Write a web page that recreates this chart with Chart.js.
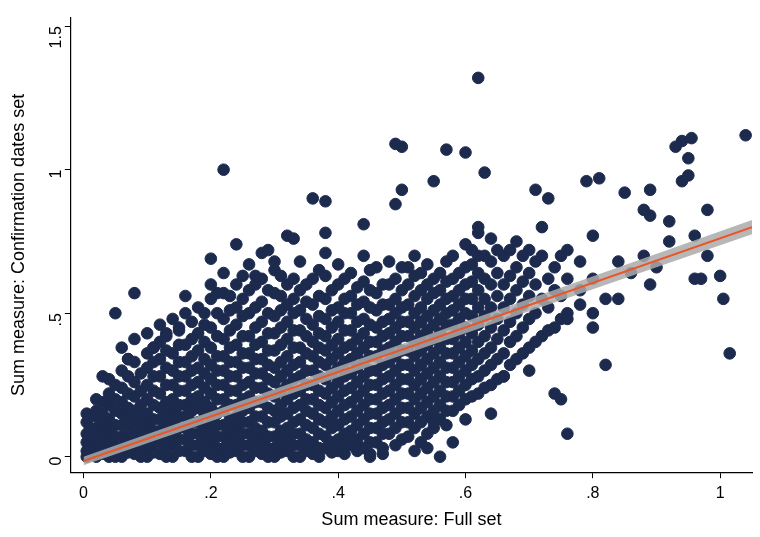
<!DOCTYPE html>
<html><head><meta charset="utf-8">
<script src="https://cdn.jsdelivr.net/npm/chart.js@4"></script>
<style>html,body{margin:0;padding:0;background:#fff}</style>
</head><body><canvas id="c" width="760" height="537"></canvas>
<script>
const colX=[0.005,0.02,0.04,0.06,0.08,0.1,0.12,0.14,0.16,0.18,0.2,0.22,0.24,0.26,0.28,0.3,0.32,0.34,0.36,0.38,0.4,0.42,0.44,0.46,0.48,0.5,0.52,0.54,0.56,0.58,0.6,0.62,0.64,0.66,0.68,0.7,0.72,0.74,0.76,0.78,0.8,0.84,0.88,0.9,0.92];
const colY=[
[0,0.02,0.05,0.08,0.12,0.15],
[0,0.03,0.06,0.1,0.14,0.16,0.2],
[0,0.02,0.05,0.09,0.13,0.18,0.22,0.27],
[0,0.03,0.07,0.11,0.15,0.19,0.24,0.3,0.38],
[0.01,0.04,0.08,0.12,0.16,0.21,0.26,0.33,0.41],
[0,0.03,0.07,0.11,0.15,0.2,0.25,0.31,0.36],
[0.01,0.05,0.09,0.13,0.17,0.22,0.28,0.34,0.4,0.46],
[0,0.04,0.08,0.12,0.16,0.2,0.25,0.3,0.36,0.48],
[0.02,0.06,0.1,0.14,0.18,0.23,0.28,0.33,0.39,0.5,0.56],
[0,0.04,0.08,0.12,0.17,0.21,0.26,0.31,0.37,0.43,0.52],
[0.01,0.05,0.09,0.13,0.17,0.22,0.27,0.32,0.38,0.45,0.55,0.6],
[0,0.03,0.07,0.11,0.16,0.2,0.25,0.3,0.35,0.41,0.48,0.57,0.64],
[0.02,0.06,0.1,0.14,0.18,0.23,0.28,0.33,0.39,0.46,0.52,0.6],
[0,0.04,0.08,0.12,0.17,0.21,0.26,0.31,0.36,0.42,0.5,0.58,0.67],
[0.01,0.05,0.09,0.14,0.19,0.24,0.29,0.34,0.4,0.47,0.54,0.62],
[0,0.03,0.07,0.12,0.16,0.21,0.26,0.31,0.37,0.43,0.49,0.57,0.65],
[0.02,0.06,0.1,0.15,0.2,0.25,0.3,0.35,0.41,0.47,0.53,0.6],
[0,0.04,0.08,0.13,0.18,0.23,0.28,0.33,0.38,0.44,0.51,0.58,0.68],
[0.01,0.05,0.1,0.15,0.2,0.25,0.3,0.35,0.4,0.46,0.53,0.62],
[0.03,0.07,0.12,0.17,0.22,0.27,0.32,0.37,0.42,0.48,0.55,0.63,0.71],
[0.02,0.06,0.11,0.16,0.21,0.26,0.31,0.36,0.41,0.47,0.52,0.6,0.67],
[0.04,0.09,0.14,0.19,0.24,0.29,0.34,0.39,0.44,0.5,0.56,0.64],
[0.03,0.08,0.13,0.18,0.23,0.28,0.33,0.38,0.43,0.48,0.54,0.61,0.7],
[0.05,0.1,0.15,0.2,0.25,0.3,0.35,0.4,0.45,0.51,0.57,0.66],
[0.08,0.13,0.18,0.23,0.28,0.33,0.38,0.43,0.48,0.53,0.6,0.68],
[0.06,0.12,0.17,0.22,0.27,0.32,0.37,0.42,0.47,0.52,0.58,0.66],
[0.1,0.15,0.2,0.25,0.3,0.35,0.4,0.45,0.5,0.56,0.63,0.7],
[0.08,0.14,0.19,0.24,0.29,0.34,0.39,0.44,0.49,0.55,0.6,0.67],
[0.13,0.18,0.23,0.28,0.33,0.38,0.43,0.48,0.53,0.58,0.64],
[0.16,0.21,0.26,0.31,0.36,0.41,0.46,0.51,0.56,0.62,0.7],
[0.2,0.25,0.3,0.35,0.4,0.45,0.5,0.55,0.6,0.66,0.74],
[0.22,0.28,0.34,0.4,0.46,0.52,0.58,0.64,0.7,0.78],
[0.25,0.32,0.38,0.45,0.52,0.6,0.68,0.76],
[0.28,0.36,0.44,0.52,0.6,0.7],
[0.34,0.42,0.5,0.58,0.66,0.75],
[0.38,0.48,0.56,0.64,0.72],
[0.42,0.55,0.7,0.8],
[0.45,0.58,0.66],
[0.5,0.62,0.72],
[0.58,0.68],
[0.45,0.62,0.77],
[0.55,0.68],
[0.7],[0.66],[0.75]
];
const col2X=[0.01,0.03,0.05,0.07,0.09,0.11,0.13,0.15,0.17,0.19,0.21,0.23,0.25,0.27,0.29,0.31,0.33,0.35,0.37,0.39,0.41,0.43,0.45,0.47,0.49,0.51,0.53,0.55,0.57,0.59,0.61,0.63,0.65,0.67,0.69,0.71,0.73,0.75];
const col2Y=[
[0.01,0.04,0.07,0.1],
[0.01,0.04,0.08,0.11,0.15,0.19],
[0,0.035,0.07,0.11,0.16,0.2,0.25],
[0.015,0.05,0.09,0.13,0.17,0.22,0.28,0.34],
[0,0.025,0.06,0.1,0.14,0.18,0.23,0.29],
[0.015,0.05,0.09,0.13,0.18,0.23,0.28,0.33,0.38],
[0,0.03,0.07,0.11,0.15,0.19,0.25,0.31,0.37,0.43],
[0.02,0.06,0.1,0.14,0.18,0.23,0.28,0.33,0.39,0.45],
[0,0.04,0.08,0.12,0.16,0.2,0.25,0.3,0.35,0.41,0.47],
[0.02,0.06,0.1,0.15,0.19,0.24,0.29,0.34,0.4,0.46,0.5],
[0,0.03,0.07,0.11,0.15,0.2,0.25,0.3,0.35,0.42,0.5,0.57],
[0.015,0.05,0.09,0.13,0.18,0.23,0.28,0.33,0.38,0.44,0.51,0.56],
[0,0.04,0.08,0.12,0.16,0.2,0.25,0.31,0.36,0.42,0.49,0.55,0.63],
[0.02,0.06,0.1,0.14,0.19,0.24,0.29,0.34,0.39,0.45,0.52,0.6],
[0,0.03,0.07,0.12,0.17,0.22,0.27,0.32,0.37,0.43,0.5,0.58],
[0.015,0.05,0.09,0.14,0.18,0.23,0.28,0.33,0.39,0.45,0.51,0.56,0.63],
[0,0.04,0.08,0.12,0.17,0.22,0.27,0.32,0.38,0.44,0.5,0.55,0.62],
[0.02,0.06,0.11,0.16,0.2,0.25,0.3,0.36,0.42,0.48,0.54,0.6],
[0,0.03,0.08,0.13,0.18,0.23,0.28,0.33,0.38,0.43,0.49,0.56,0.65],
[0.015,0.05,0.1,0.14,0.19,0.24,0.29,0.34,0.39,0.45,0.51,0.58],
[0.01,0.04,0.08,0.13,0.18,0.23,0.28,0.33,0.38,0.44,0.5,0.55,0.62],
[0.02,0.06,0.11,0.16,0.21,0.26,0.31,0.36,0.41,0.47,0.53,0.59],
[0.01,0.05,0.1,0.15,0.2,0.25,0.3,0.35,0.4,0.46,0.52,0.58,0.65],
[0.03,0.08,0.12,0.17,0.22,0.27,0.32,0.37,0.42,0.47,0.53,0.6],
[0.04,0.1,0.15,0.2,0.25,0.3,0.35,0.4,0.45,0.5,0.55,0.62],
[0.07,0.12,0.17,0.22,0.27,0.32,0.37,0.42,0.47,0.53,0.6,0.66],
[0.05,0.12,0.17,0.22,0.27,0.32,0.37,0.42,0.47,0.52,0.58,0.64],
[0.1,0.16,0.21,0.26,0.31,0.36,0.41,0.46,0.51,0.57,0.62],
[0.11,0.16,0.21,0.26,0.31,0.36,0.41,0.46,0.5,0.55,0.61,0.68],
[0.18,0.23,0.28,0.33,0.38,0.43,0.48,0.53,0.58,0.64],
[0.21,0.27,0.32,0.37,0.43,0.49,0.55,0.61,0.67,0.72],
[0.24,0.3,0.36,0.42,0.49,0.55,0.62,0.7],
[0.27,0.34,0.41,0.48,0.56,0.64,0.72],
[0.32,0.4,0.47,0.55,0.63],
[0.36,0.45,0.53,0.61,0.7],
[0.4,0.5,0.6,0.68],
[0.44,0.52,0.62],
[0.48,0.56,0.7]
];
const outX=[0.62,0.22,1.04,0.94,0.955,0.93,0.95,0.49,0.5,0.57,0.6,0.63,0.55,0.5,0.36,0.38,0.44,0.49,0.71,0.73,0.79,0.81,0.89,0.85,0.94,0.95,0.88,0.89,0.92,0.98,0.96,0.98,1.0,0.97,0.96,1.005,1.015,0.89,0.86,0.82,0.78,0.76,0.8,0.74,0.75,0.76,0.82,0.7,0.66,0.64,0.6,0.55,0.54,0.56,0.47,0.42,0.08,0.05,0.1,0.13,0.15,0.2,0.24,0.27,0.28,0.3,0.29,0.32,0.33,0.38,0.03,0.07,0.11,0.45,0.52,0.58,0.62,0.67];
const outY=[1.32,1.0,1.12,1.1,1.11,1.08,1.04,1.09,1.08,1.07,1.06,0.99,0.96,0.93,0.9,0.89,0.81,0.88,0.93,0.9,0.96,0.97,0.93,0.92,0.96,0.98,0.86,0.84,0.82,0.86,0.77,0.7,0.63,0.62,0.62,0.55,0.36,0.6,0.64,0.55,0.53,0.48,0.5,0.22,0.2,0.08,0.32,0.3,0.28,0.15,0.13,0.12,0.03,0.0,0.01,0.06,0.57,0.5,0.43,0.42,0.44,0.69,0.74,0.63,0.71,0.68,0.72,0.77,0.76,0.78,0.28,0.34,0.38,0.0,0.02,0.05,0.8,0.72];
const fitX=[0,1.05];
const fitY=[-0.015,0.80];
const bandHi=[0.0,0.825];
const bandLo=[-0.03,0.775];
const xTicks=[0,0.2,0.4,0.6,0.8,1];
const yTicks=[0,0.5,1,1.5];

const pts=[];
colX.forEach((x,i)=>colY[i].forEach(y=>pts.push({x:x,y:y})));
col2X.forEach((x,i)=>col2Y[i].forEach(y=>pts.push({x:x,y:y})));
outX.forEach((x,i)=>pts.push({x:x,y:outY[i]}));
const fmt=v=>{if(v===0)return '0';let s=String(Math.round(v*10)/10);return s.startsWith('0.')?s.slice(1):s;};
const navy='#1c2a4e';
const gridOpt={display:true,drawOnChartArea:false,drawTicks:true,tickLength:6,color:'#000'};
new Chart(document.getElementById('c'),{
 data:{datasets:[
  {type:'scatter',data:pts,backgroundColor:navy,borderColor:navy,pointRadius:5.8,pointHoverRadius:5.8,order:3},
  {type:'line',data:fitX.map((x,i)=>({x:x,y:bandLo[i]})),borderWidth:0,pointRadius:0,fill:false,order:2},
  {type:'line',data:fitX.map((x,i)=>({x:x,y:bandHi[i]})),borderWidth:0,pointRadius:0,fill:'-1',backgroundColor:'rgba(170,170,170,0.85)',order:2},
  {type:'line',data:fitX.map((x,i)=>({x:x,y:fitY[i]})),borderColor:'#e8562a',borderWidth:2,pointRadius:0,fill:false,order:1}
 ]},
 options:{responsive:false,animation:false,devicePixelRatio:1,
  layout:{padding:{top:5,right:8,left:4,bottom:2}},
  plugins:{legend:{display:false},tooltip:{enabled:false}},
  scales:{
   x:{type:'linear',min:-0.02,max:1.05,grid:gridOpt,border:{color:'#000',width:1.2},
     afterBuildTicks:a=>{a.ticks=xTicks.map(v=>({value:v}));},
     ticks:{color:'#000',font:{family:'Liberation Sans',size:16},callback:fmt,maxRotation:0,padding:6},
     title:{display:true,text:'Sum measure: Full set',color:'#000',font:{family:'Liberation Sans',size:18},padding:{top:0}}},
   y:{type:'linear',min:-0.054,max:1.53,grid:gridOpt,border:{color:'#000',width:1.2},
     afterBuildTicks:a=>{a.ticks=yTicks.map(v=>({value:v}));},
     ticks:{color:'#000',font:{family:'Liberation Sans',size:16},callback:fmt,minRotation:90,maxRotation:90,padding:8},
     title:{display:true,text:'Sum measure: Confirmation dates set',color:'#000',font:{family:'Liberation Sans',size:18},padding:{bottom:0}}}
  }}
});
</script></body></html>
